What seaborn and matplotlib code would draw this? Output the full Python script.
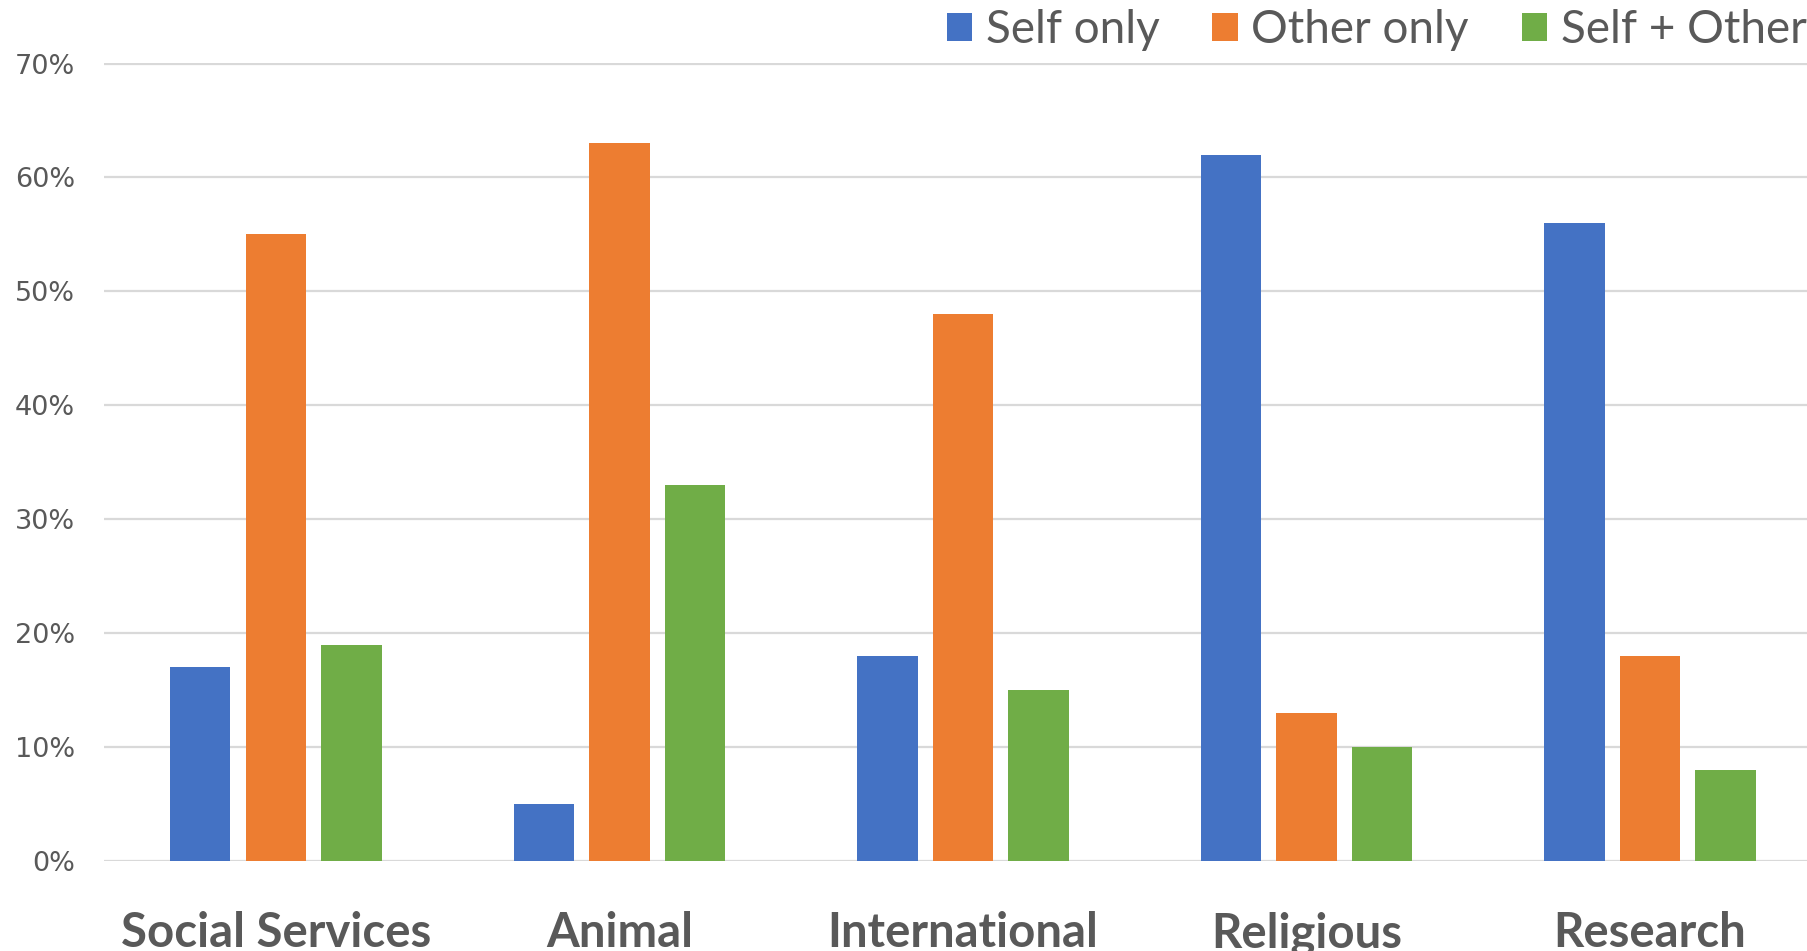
import matplotlib
matplotlib.use("Agg")
import matplotlib.pyplot as plt
import seaborn as sns
import pandas as pd
from matplotlib.ticker import FuncFormatter

# Share of donors by cause, split by who the giving motive benefits
categories = ["Social Services", "Animal", "International", "Religious", "Research"]
self_only = [17, 5, 18, 62, 56]
other_only = [55, 63, 48, 13, 18]
self_plus_other = [19, 33, 15, 10, 8]
series_names = ["Self only", "Other only", "Self + Other"]
series_colors = ["#4472C4", "#ED7D31", "#70AD47"]
y_ticks = [0, 10, 20, 30, 40, 50, 60, 70]

rows = []
for name, values in zip(series_names, [self_only, other_only, self_plus_other]):
    for cat, v in zip(categories, values):
        rows.append({"Cause": cat, "Motive": name, "Share": v})
df = pd.DataFrame(rows)

sns.set_style("white")
plt.rcParams["font.family"] = ["Lato", "DejaVu Sans"]

fig = plt.figure(figsize=(18.08, 9.51), dpi=100)
ax = fig.add_axes([104 / 1808, 90 / 951, 1 - 104 / 1808, (888 - 90) / 951])

sns.barplot(
    data=df, x="Cause", y="Share", hue="Motive",
    order=categories, hue_order=series_names,
    palette=series_colors, saturation=1, width=0.66, gap=0.2,
    linewidth=0, ax=ax,
)

ax.set_xlim(-0.5, 4.46)
ax.set_ylim(0, 70.05)
ax.set_yticks(y_ticks)
ax.yaxis.set_major_formatter(FuncFormatter(lambda v, _: f"{v:.0f}%"))
ax.yaxis.grid(True, color="#d9d9d9", linewidth=1.6)
ax.set_axisbelow(True)
sns.despine(ax=ax, left=True, bottom=True, top=True, right=True)
ax.set_xlabel("")
ax.set_ylabel("")

ax.tick_params(axis="y", length=0, pad=21, labelsize=19.5, labelcolor="#595959")
for lbl in ax.get_yticklabels():
    lbl.set_fontfamily("DejaVu Sans")
ax.tick_params(axis="x", length=0, pad=36, labelsize=34, labelcolor="#595959")
for lbl in ax.get_xticklabels():
    lbl.set_fontweight("bold")

handles, labels = ax.get_legend_handles_labels()
ax.get_legend().remove()
fig.legend(
    handles, labels, loc="center left", bbox_to_anchor=(947 / 1808, 1 - 30 / 951),
    ncol=3, frameon=False, fontsize=33, labelcolor="#595959",
    handlelength=0.55, handleheight=0.55, handletextpad=0.3,
    columnspacing=1.15, borderpad=0, borderaxespad=0,
)

fig.savefig("out.png", dpi=100)
